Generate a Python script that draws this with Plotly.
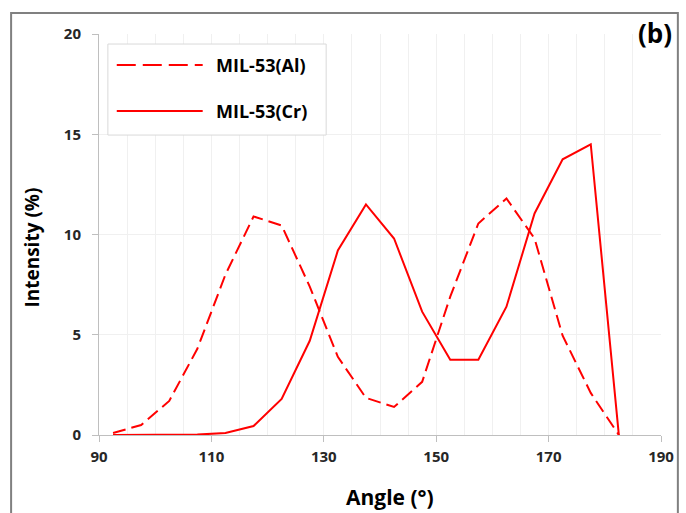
import plotly.graph_objects as go

# Angular distribution of intensity for the two MIL-53 frameworks
angle = [92.5, 97.5, 102.5, 107.5, 112.5, 117.5, 122.5, 127.5, 132.5, 137.5,
         142.5, 147.5, 152.5, 157.5, 162.5, 167.5, 172.5, 177.5, 182.5]
intensity_al = [0.1, 0.5, 1.7, 4.3, 8.0, 10.9, 10.45, 7.4, 3.9, 1.85,
                1.4, 2.65, 6.9, 10.55, 11.8, 9.8, 4.95, 2.1, 0.0]
intensity_cr = [0.0, 0.0, 0.0, 0.02, 0.1, 0.45, 1.8, 4.7, 9.2, 11.5,
                9.8, 6.15, 3.75, 3.75, 6.4, 11.05, 13.75, 14.5, 0.0]
series_names = ["MIL-53(Al)", "MIL-53(Cr)"]

x_ticks = [90, 110, 130, 150, 170, 190]
y_ticks = [0, 5, 10, 15, 20]

RED = "#ff0000"
FONT = "Open Sans"

fig = go.Figure()
fig.add_trace(go.Scatter(x=angle, y=intensity_al, mode="lines", name=series_names[0],
                         line=dict(color=RED, width=2, dash="13px,6px"), showlegend=False))
fig.add_trace(go.Scatter(x=angle, y=intensity_cr, mode="lines", name=series_names[1],
                         line=dict(color=RED, width=2), showlegend=False))

axis_common = dict(
    showline=True, linecolor="#bfbfbf", linewidth=1,
    ticks="outside", tickcolor="#bfbfbf", ticklen=6,
    tickfont=dict(family=FONT, size=15, color="#262626", weight="bold"),
    gridcolor="#f0f0f0", gridwidth=1, zeroline=False,
)

fig.update_xaxes(range=[90, 190], tickvals=x_ticks, ticklabelstandoff=2, **axis_common,
                 minor=dict(dtick=5, tick0=90, showgrid=True, gridcolor="#f0f0f0", ticks=""))
fig.update_yaxes(range=[0, 20], tickvals=y_ticks, ticklabelstandoff=8, **axis_common)

shapes = [
    # outer frame
    dict(type="rect", xref="paper", yref="paper", x0=-0.1564, x1=1.030, y0=-0.25, y1=1.0524,
         line=dict(color="#808080", width=2), fillcolor="rgba(0,0,0,0)", layer="below"),
    # legend box
    dict(type="rect", xref="paper", yref="paper", x0=0.0158, x1=0.4042, y0=0.748, y1=0.975,
         line=dict(color="#d9d9d9", width=1), fillcolor="white"),
    # legend samples
    dict(type="line", xref="paper", yref="paper", x0=0.0316, x1=0.1845, y0=0.9227, y1=0.9227,
         line=dict(color=RED, width=2, dash="19px,7px")),
    dict(type="line", xref="paper", yref="paper", x0=0.0316, x1=0.1845, y0=0.808, y1=0.808,
         line=dict(color=RED, width=2)),
]

title_font = dict(family=FONT, color="#000", weight="bold")
annotations = [
    dict(xref="paper", yref="paper", x=0.2039, y=0.9227, text=series_names[0], showarrow=False,
         xanchor="left", yanchor="middle",
         font=dict(family=FONT, size=18, color="#000", weight="bold")),
    dict(xref="paper", yref="paper", x=0.2039, y=0.808, text=series_names[1], showarrow=False,
         xanchor="left", yanchor="middle",
         font=dict(family=FONT, size=18, color="#000", weight="bold")),
    dict(xref="paper", yref="paper", x=1.0235, y=1.0524, text="(b)", showarrow=False,
         xanchor="right", yanchor="top",
         font=dict(family=FONT, size=26, color="#000", weight="bold")),
    # axis titles
    dict(xref="paper", yref="paper", x=0.5185, y=-0.1546, text="Angle (°)", showarrow=False,
         xanchor="center", yanchor="middle", font=dict(size=21, **title_font)),
    dict(xref="paper", yref="paper", x=-0.12, y=0.4663, text="Intensity (%)", showarrow=False,
         xanchor="center", yanchor="middle", textangle=-90, font=dict(size=19, **title_font)),
]

fig.update_layout(
    width=686, height=513,
    margin=dict(l=99, r=18, t=34, b=78),
    paper_bgcolor="white", plot_bgcolor="white",
    shapes=shapes, annotations=annotations,
)

fig.write_html("out.html")
